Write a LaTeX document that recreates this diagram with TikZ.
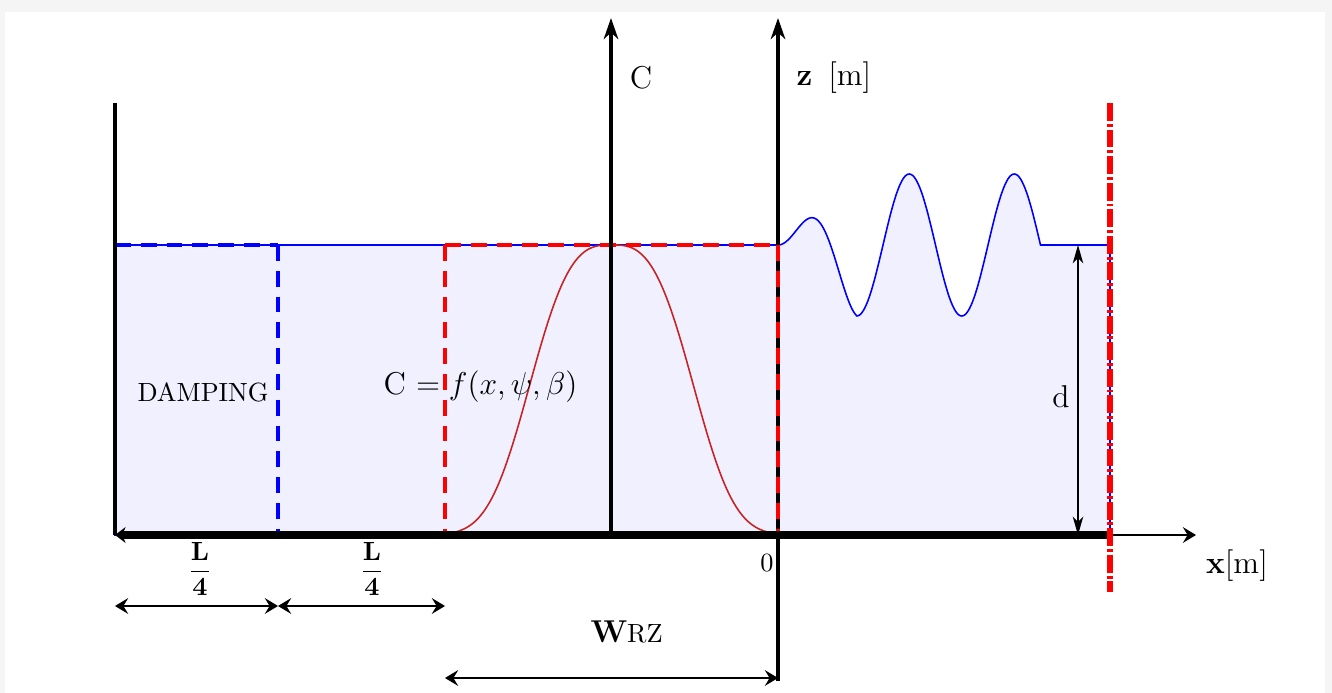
\documentclass[tikz,border=0pt]{standalone}
\usepackage{amsmath,amssymb}
\usepackage{tikz}
\usetikzlibrary{arrows.meta}
\definecolor{curvered}{RGB}{200,35,35}

\begin{document}
\begin{tikzpicture}[x=0.38pt,y=-0.38pt,>={Stealth[length=5pt,width=6pt,inset=1.8pt]},
  axis/.style={->,line width=1.5pt,>={Stealth[length=8pt,width=5.5pt,inset=2.5pt]}},
  dim/.style={<->,line width=0.6pt},
  swl/.style={line width=1.6pt,dash pattern=on 6pt off 3.8pt},
  bc/.style={red,line width=2.6pt,dash pattern=on 6.8pt off 1.1pt on 1.1pt off 1.1pt}]
  \fill[black!4] (0,0) rectangle (1332,693);
  \fill[white] (5,12) rectangle (1325,693);
  \useasboundingbox (0,0) rectangle (1332,693);

  \coordinate (wallTop) at (115,103);
  \coordinate (floorL) at (115,535);
  \coordinate (floorR) at (1110,535);
  \coordinate (xEnd) at (1196,535);
  \coordinate (swlL) at (115,245);
  \coordinate (dampS) at (278,245);
  \coordinate (dampB) at (278,535);
  \coordinate (rzS) at (445,245);
  \coordinate (rzB) at (445,535);
  \coordinate (swlO) at (778,245);
  \coordinate (origin) at (778,535);
  \coordinate (cBase) at (611,535);
  \coordinate (cTop) at (611,18);
  \coordinate (zBase) at (778,681);
  \coordinate (zTop) at (778,18);
  \coordinate (bcTop) at (1110,103);
  \coordinate (bcBot) at (1110,592);
  \coordinate (dTop) at (1078,245);
  \coordinate (dBot) at (1078,535);
  \coordinate (qa) at (115,606);
  \coordinate (qb) at (278,606);
  \coordinate (qc) at (445,606);
  \coordinate (wa) at (445,678);
  \coordinate (wb) at (778,678);

  \filldraw[fill=blue!6,draw=blue,line width=0.6pt] (swlL) -- (swlO)
    -- plot[domain=778:857,samples=60,smooth,variable=\t]
       ({\t},{245-71*((\t-778)/79)*sin((\t-778)/105*360)})
    -- plot[domain=857:1040.5,samples=120,smooth,variable=\t]
       ({\t},{245-71*sin((\t-778)/105*360)})
    -- (floorR |- swlO) -- (floorR) -- (floorL) -- cycle;

  \draw[curvered,line width=0.6pt,domain=448:775,samples=160,smooth,variable=\t]
    plot ({\t},{535-290*exp(-abs((\t-611.5)/94)*((\t-611.5)/94)*((\t-611.5)/94))});

  \node[anchor=base west,inner sep=0pt] (damp) at (137,401) {DAMPING};
  \node[anchor=base west,inner sep=0pt,font=\large] (cLaw) at (383,394) {C $= f(x,\psi,\beta)$};

  \draw[swl,blue] (swlL) -- (dampS);
  \draw[swl,red] (rzS) -- (swlO);
  \draw[swl,blue] (dampS) -- (dampB);

  \draw[axis] (cBase) -- (cTop);
  \draw[axis] (zBase) -- (zTop);
  \node[font=\large] (cLab) at (641,78) {C};
  \node[font=\large] (zLab) at (834,78) {\textbf{z}\enspace[m]};

  \draw[swl,red] (rzS) -- (rzB);
  \draw[swl,red] (swlO) -- (origin);

  \draw[line width=1.6pt] (floorL) -- (wallTop);
  \draw[<-,line width=2.8pt,>={Stealth[length=4pt,width=6pt,inset=1.2pt]}] (floorL) -- (floorR);
  \draw[->,line width=0.6pt] (floorR) -- (xEnd);
  \draw[bc] (bcTop) -- (bcBot);

  \draw[<->,line width=0.6pt,>={Stealth[length=7pt,width=4pt,inset=2pt]}] (dTop) -- (dBot);
  \node[font=\large] (dLab) at (1061,397) {d};

  \node (zero) at (767,563) {0};
  \node[font=\large] (xLab) at (1237,566) {\textbf{x}[m]};

  \draw[dim] (qa) -- (qb);
  \draw[dim] (qb) -- (qc);
  \node (qaLab) at (200,569) {$\dfrac{\mathbf{L}}{\mathbf{4}}$};
  \node (qbLab) at (372,569) {$\dfrac{\mathbf{L}}{\mathbf{4}}$};

  \draw[dim] (wa) -- (wb);
  \node[anchor=base west,inner sep=0pt] (wrz) at (590,642) {{\large\textbf{W}}RZ};
\end{tikzpicture}
\end{document}
